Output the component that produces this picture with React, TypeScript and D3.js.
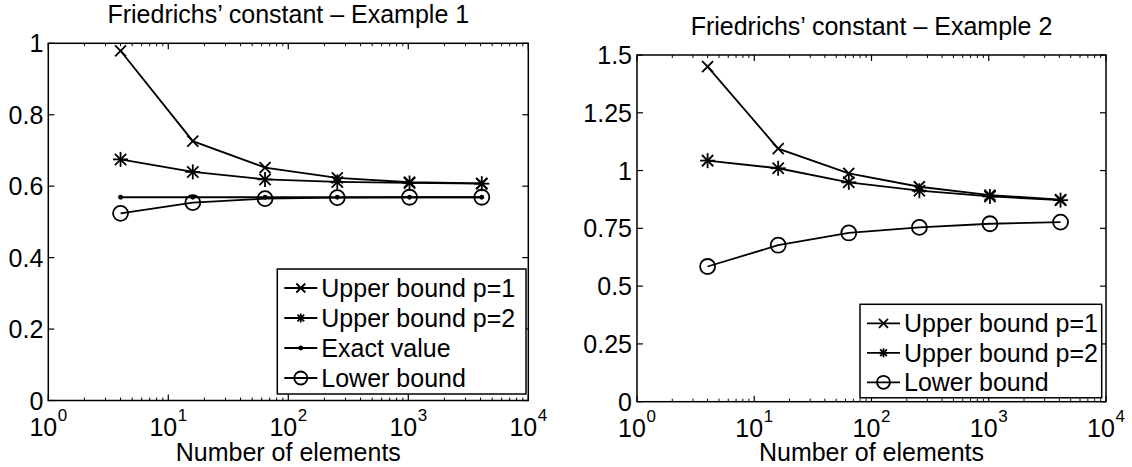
import * as d3 from "d3";

const FONT = "'Liberation Sans', Arial, Helvetica, sans-serif";
const FS = 25;

// number of elements (x values, same for both examples)
const elements = [4, 16, 64, 256, 1024, 4096];

// Example 1
const ex1Upper1 = [0.979, 0.726, 0.652, 0.623, 0.611, 0.608];
const ex1Upper2 = [0.675, 0.640, 0.619, 0.612, 0.609, 0.607];
const ex1Exact = [0.569, 0.569, 0.569, 0.569, 0.569, 0.569];
const ex1Lower = [0.524, 0.554, 0.565, 0.568, 0.569, 0.569];

// Example 2
const ex2Upper1 = [1.45, 1.095, 0.988, 0.93, 0.894, 0.874];
const ex2Upper2 = [1.043, 1.01, 0.949, 0.913, 0.888, 0.872];
const ex2Lower = [0.585, 0.677, 0.73, 0.754, 0.77, 0.777];

const ex1YTicks = [0, 0.2, 0.4, 0.6, 0.8, 1];
const ex2YTicks = [0, 0.25, 0.5, 0.75, 1, 1.25, 1.5];
const xDecades = [0, 1, 2, 3, 4];

type MarkerKind = "x" | "star" | "dot" | "circle";

type Series = { label: string; values: number[]; marker: MarkerKind };

const Marker = ({ kind, cx, cy, s }: { kind: MarkerKind; cx: number; cy: number; s: number }) => {
  const sw = 1.8;
  if (kind === "x") {
    return (
      <g stroke="#000" strokeWidth={sw}>
        <line x1={cx - s} y1={cy - s} x2={cx + s} y2={cy + s} />
        <line x1={cx - s} y1={cy + s} x2={cx + s} y2={cy - s} />
      </g>
    );
  }
  if (kind === "star") {
    const d = s * 0.75;
    return (
      <g stroke="#000" strokeWidth={sw}>
        <line x1={cx - s} y1={cy} x2={cx + s} y2={cy} />
        <line x1={cx} y1={cy - s} x2={cx} y2={cy + s} />
        <line x1={cx - d} y1={cy - d} x2={cx + d} y2={cy + d} />
        <line x1={cx - d} y1={cy + d} x2={cx + d} y2={cy - d} />
      </g>
    );
  }
  if (kind === "dot") {
    return <circle cx={cx} cy={cy} r={2.4} fill="#000" />;
  }
  return <circle cx={cx} cy={cy} r={s} fill="none" stroke="#000" strokeWidth={sw} />;
};

const markerSize = (k: MarkerKind) => (k === "circle" ? 7.5 : k === "star" ? 7.5 : 5.5);

type PanelProps = {
  title: string;
  left: number;
  right: number;
  top: number;
  bottom: number;
  yMax: number;
  yTicks: number[];
  series: Series[];
  legendBox: { x: number; y: number; w: number; row: number };
};

const Panel = ({ title, left, right, top, bottom, yMax, yTicks, series, legendBox }: PanelProps) => {
  const x = d3.scaleLog().domain([1, 1e4]).range([left, right]);
  const y = d3.scaleLinear().domain([0, yMax]).range([bottom, top]);
  const line = d3
    .line<number>()
    .x((_, i) => x(elements[i]))
    .y((d) => y(d));

  // log minor ticks 2..9 of each decade
  const minor: number[] = [];
  xDecades.slice(0, -1).forEach((k) => {
    for (let m = 2; m <= 9; m++) minor.push(m * Math.pow(10, k));
  });

  const cx = (left + right) / 2;
  const legendH = series.length * legendBox.row + 5;

  return (
    <g fontFamily={FONT} fontSize={FS} fill="#000">
      <text x={cx} y={top - 20} textAnchor="middle">
        {title}
      </text>

      {/* series lines */}
      {series.map((s) => (
        <path key={s.label} d={line(s.values) || ""} fill="none" stroke="#000" strokeWidth={1.8} />
      ))}
      {series.map((s) =>
        s.values.map((v, i) => (
          <Marker key={s.label + i} kind={s.marker} cx={x(elements[i])} cy={y(v)} s={markerSize(s.marker)} />
        ))
      )}

      {/* axes box */}
      <rect x={left} y={top} width={right - left} height={bottom - top} fill="none" stroke="#000" strokeWidth={1.5} />

      {/* x ticks */}
      {minor.map((m) => (
        <g key={m} stroke="#000" strokeWidth={1}>
          <line x1={x(m)} x2={x(m)} y1={bottom} y2={bottom - 3} />
          <line x1={x(m)} x2={x(m)} y1={top} y2={top + 3} />
        </g>
      ))}
      {xDecades.map((k) => {
        const px = x(Math.pow(10, k));
        return (
          <g key={k}>
            <line x1={px} x2={px} y1={bottom} y2={bottom - 6} stroke="#000" strokeWidth={1.2} />
            <line x1={px} x2={px} y1={top} y2={top + 6} stroke="#000" strokeWidth={1.2} />
            <text x={px - 5} y={bottom + 35} textAnchor="middle">
              10
            </text>
            <text x={px + 9.5} y={bottom + 20} fontSize={17}>
              {k}
            </text>
          </g>
        );
      })}

      {/* y ticks */}
      {yTicks.map((t) => (
        <g key={t}>
          <line x1={left} x2={left + 6} y1={y(t)} y2={y(t)} stroke="#000" strokeWidth={1.2} />
          <line x1={right} x2={right - 6} y1={y(t)} y2={y(t)} stroke="#000" strokeWidth={1.2} />
          <text x={left - 5} y={y(t)} dy="0.36em" textAnchor="end">
            {String(t)}
          </text>
        </g>
      ))}

      <text x={cx} y={461} textAnchor="middle">
        Number of elements
      </text>

      {/* legend */}
      <rect
        x={legendBox.x}
        y={legendBox.y}
        width={legendBox.w}
        height={legendH}
        fill="#fff"
        stroke="#000"
        strokeWidth={1.5}
      />
      {series.map((s, i) => {
        const ry = legendBox.y + 19 + i * legendBox.row;
        const lx = legendBox.x + 7;
        return (
          <g key={s.label}>
            <line x1={lx} x2={lx + 33} y1={ry} y2={ry} stroke="#000" strokeWidth={1.8} />
            <Marker kind={s.marker} cx={lx + 16.5} cy={ry} s={s.marker === "circle" ? 6.5 : 4.5} />
            <text x={lx + 37} y={ry} dy="0.36em">
              {s.label}
            </text>
          </g>
        );
      })}
    </g>
  );
};

export default function App() {
  const series1: Series[] = [
    { label: "Upper bound p=1", values: ex1Upper1, marker: "x" },
    { label: "Upper bound p=2", values: ex1Upper2, marker: "star" },
    { label: "Exact value", values: ex1Exact, marker: "dot" },
    { label: "Lower bound", values: ex1Lower, marker: "circle" },
  ];
  const series2: Series[] = [
    { label: "Upper bound p=1", values: ex2Upper1, marker: "x" },
    { label: "Upper bound p=2", values: ex2Upper2, marker: "star" },
    { label: "Lower bound", values: ex2Lower, marker: "circle" },
  ];
  return (
    <svg
      width={1132}
      height={467}
      style={{ position: "absolute", left: 0, top: 0, background: "#fff" }}
    >
      <rect width={1132} height={467} fill="#fff" />
      <Panel
        title="Friedrichs’ constant – Example 1"
        left={48.3}
        right={528.3}
        top={43.3}
        bottom={400.5}
        yMax={1}
        yTicks={ex1YTicks}
        series={series1}
        legendBox={{ x: 277.3, y: 269, w: 248.7, row: 30 }}
      />
      <Panel
        title="Friedrichs’ constant – Example 2"
        left={637}
        right={1106}
        top={55}
        bottom={401.7}
        yMax={1.5}
        yTicks={ex2YTicks}
        series={series2}
        legendBox={{ x: 860, y: 304.3, w: 241.7, row: 29.5 }}
      />
    </svg>
  );
}
